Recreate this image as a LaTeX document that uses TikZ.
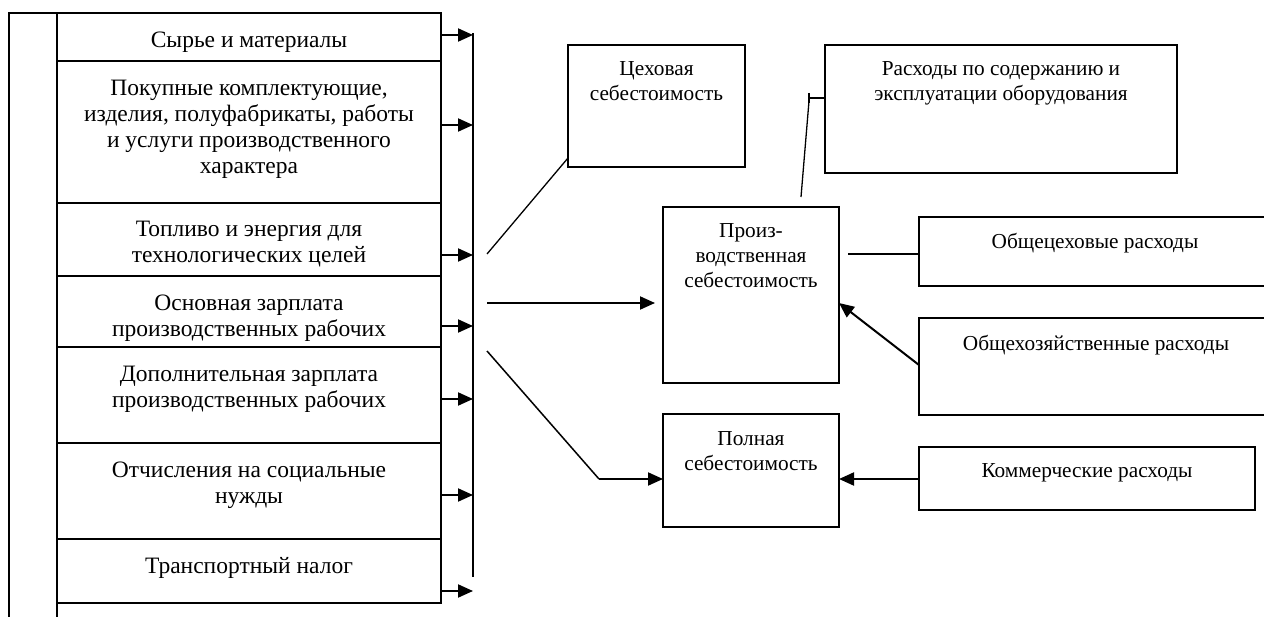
\documentclass[tikz,border=0pt]{standalone}
\usepackage{fontspec}
\setmainfont{Liberation Serif}
\usetikzlibrary{arrows.meta}
\begin{document}
\begin{tikzpicture}[x=1bp,y=-1bp,
  box/.style={draw,line width=1.5bp,inner sep=0,outer sep=0,anchor=north west},
  txt/.style={font=\fontsize{21.3bp}{25bp}\selectfont,align=center,anchor=north,inner sep=0},
  txtL/.style={font=\fontsize{23.5bp}{26bp}\selectfont,align=center,anchor=north,inner sep=0},
  arr/.style={line width=2bp,-{Triangle[length=15bp,width=13bp]}},
  thin/.style={line width=1.3bp},
  frame/.style={line width=1.5bp}]
\useasboundingbox (0,0) rectangle (1264,617);
\clip (0,0) rectangle (1264,617);
% left column
\node[box,minimum width=384bp,minimum height=48bp]  (r1) at (57,13)  {};
\node[box,minimum width=384bp,minimum height=142bp] (r2) at (57,61)  {};
\node[box,minimum width=384bp,minimum height=73bp]  (r3) at (57,203) {};
\node[box,minimum width=384bp,minimum height=71bp]  (r4) at (57,276) {};
\node[box,minimum width=384bp,minimum height=96bp]  (r5) at (57,347) {};
\node[box,minimum width=384bp,minimum height=96bp]  (r6) at (57,443) {};
\node[box,minimum width=384bp,minimum height=64bp]  (r7) at (57,539) {};
\node[txtL] (t1) at ([yshift=-15.8bp]r1.north) {\strut Сырье и материалы};
\node[txtL] (t2) at ([yshift=-15.8bp]r2.north) {\strut Покупные комплектующие,\\изделия, полуфабрикаты, работы\\и услуги производственного\\характера};
\node[txtL] (t3) at ([yshift=-14.8bp]r3.north) {\strut Топливо и энергия для\\технологических целей};
\node[txtL] (t4) at ([yshift=-15.8bp]r4.north) {\strut Основная зарплата\\производственных рабочих};
\node[txtL] (t5) at ([yshift=-15.8bp]r5.north) {\strut Дополнительная зарплата\\производственных рабочих};
\node[txtL] (t6) at ([yshift=-16.3bp]r6.north) {\strut Отчисления на социальные\\нужды};
\node[txtL] (t7) at ([yshift=-15.8bp]r7.north) {\strut Транспортный налог};
\draw[frame] (9,617) -- (9,13) -- (r1.north west);
\draw[frame] (r7.south west) -- (57,617);
% bus
\coordinate (busT) at (473,33);
\coordinate (busB) at (473,577);
\draw[frame] (busT) -- (busB);
\draw[arr] (r1.east |- 0,35)  -- (busT |- 0,35);
\draw[arr] (r2.east |- 0,125) -- (busT |- 0,125);
\draw[arr] (r3.east |- 0,255) -- (busT |- 0,255);
\draw[arr] (r4.east |- 0,326) -- (busT |- 0,326);
\draw[arr] (r5.east |- 0,399) -- (busT |- 0,399);
\draw[arr] (r6.east |- 0,495) -- (busT |- 0,495);
\draw[arr] (r7.east |- 0,591) -- (busT |- 0,591);
% right boxes
\node[box,minimum width=177bp,minimum height=122bp] (ceh)  at (568,45)  {};
\node[box,minimum width=352bp,minimum height=128bp] (rash) at (825,45)  {};
\node[box,minimum width=176bp,minimum height=176bp] (prod) at (663,207) {};
\node[box,minimum width=352bp,minimum height=69bp]  (obc)  at (919,217) {};
\node[box,minimum width=354bp,minimum height=97bp]  (obh)  at (919,318) {};
\node[box,minimum width=176bp,minimum height=113bp] (poln) at (663,414) {};
\node[box,minimum width=336bp,minimum height=63bp]  (kom)  at (919,447) {};
\node[txt] (tc)  at ([yshift=-12.5bp]ceh.north)  {\strut Цеховая\\себестоимость};
\node[txt] (tr)  at ([yshift=-12.5bp]rash.north) {\strut Расходы по содержанию и\\эксплуатации оборудования};
\node[txt] (tp)  at ([yshift=-12.5bp]prod.north) {\strut Произ-\\водственная\\себестоимость};
\node[txt] (to)  at ([yshift=-13.5bp]obc.north)  {\strut Общецеховые расходы};
\node[txt] (th)  at ([yshift=-14.5bp]obh.north)  {\strut Общехозяйственные расходы};
\node[txt] (tpl) at ([yshift=-13.5bp]poln.north) {\strut Полная\\себестоимость};
\node[txt] (tk)  at ([yshift=-12.5bp]kom.north)  {\strut Коммерческие расходы};
% connectors
\coordinate (d1) at (487,254);
\coordinate (d2) at (487,303);
\coordinate (d3) at (487,351);
\coordinate (d3b) at (599,479);
\draw[thin] (d1) -- (ceh.west |- 0,158);
\draw[arr] (d2) -- ([xshift=-8bp]prod.west |- d2);
\draw[thin,line width=1.5bp] (d3) -- (d3b);
\draw[arr] (d3b) -- (poln.west |- d3b);
\coordinate (p1) at (801,197);
\coordinate (p2) at (809,98);
\draw[thin] (p1) -- (809,101);
\draw[thin] (809,93) -- (809,103);
\draw[thin] (p2) -- (rash.west |- p2);
\draw[thin] (848,254) -- (obc.west |- 0,254);
\draw[arr] (obh.west |- 0,365) -- (prod.east |- 0,303);
\draw[arr] (kom.west |- 0,479) -- (poln.east |- 0,479);
\end{tikzpicture}
\end{document}
